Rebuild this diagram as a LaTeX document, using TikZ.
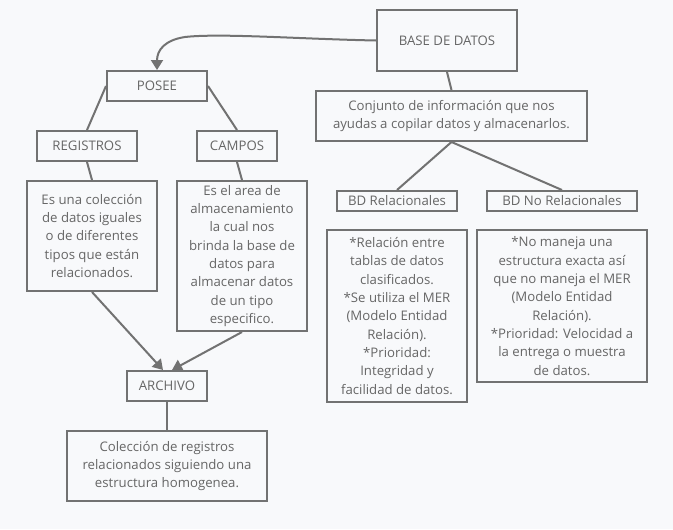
\documentclass[tikz,border=0pt]{standalone}
\usepackage{fontspec}
\setmainfont{Open Sans}
\usetikzlibrary{arrows.meta,calc}
\definecolor{bg}{HTML}{F8F9FB}
\definecolor{ln}{HTML}{727272}
\definecolor{tx}{HTML}{666666}
\begin{document}
\begin{tikzpicture}[x=0.75pt,y=-0.75pt,
  box/.style={draw=ln,line width=1.5pt,inner sep=0pt,align=center,text=tx,
    font=\fontsize{9.9}{13.75}\selectfont},
  conn/.style={draw=ln,line width=1.5pt},
  arr/.style={conn,-{Triangle[length=7.5pt,width=9pt]}}]
\fill[bg] (0,0) rectangle (673,529);
\useasboundingbox (0,0) rectangle (673,529);
% nodes
\node[box,minimum width=105pt,minimum height=45.75pt] (base) at (447,40.5) {BASE DE DATOS};
\node[box,minimum width=203.25pt,minimum height=37.5pt] (conj) at (451.5,116) {Conjunto de información que nos\\ayudas a copilar datos y almacenarlos.};
\node[box,minimum width=90pt,minimum height=15pt] (bdr) at (397,201) {BD Relacionales};
\node[box,minimum width=112.5pt,minimum height=15pt] (bdnr) at (562,201) {BD No Relacionales};
\node[box,minimum width=75pt,minimum height=22.5pt] (posee) at (157,86) {POSEE};
\node[box,minimum width=75pt,minimum height=22.5pt] (reg) at (87,146) {REGISTROS};
\node[box,minimum width=60pt,minimum height=22.5pt] (camp) at (237,146) {CAMPOS};
\node[box,minimum width=97.5pt,minimum height=82.5pt] (regd) at (92,236) {Es una colección\\de datos iguales\\o de diferentes\\tipos que están\\relacionados.};
\node[box,minimum width=97.5pt,minimum height=112.5pt] (campd) at (242,256) {Es el area de\\almacenamiento\\la cual nos\\brinda la base de\\datos para\\almacenar datos\\de un tipo\\especifico.};
\node[box,minimum width=60pt,minimum height=22.5pt] (arch) at (167,386) {ARCHIVO};
\node[box,minimum width=150pt,minimum height=52.5pt] (col) at (167,466) {Colección de registros\\relacionados siguiendo una\\estructura homogenea.};
\node[box,minimum width=105pt,minimum height=129pt] (reld) at (397,316) {*Relación entre\\tablas de datos\\clasificados.\\*Se utiliza el MER\\(Modelo Entidad\\Relación).\\*Prioridad:\\Integridad y\\facilidad de datos.};
\node[box,minimum width=127.5pt,minimum height=114pt] (nreld) at (562,306) {*No maneja una\\estructura exacta así\\que no maneja el MER\\(Modelo Entidad\\Relación).\\*Prioridad: Velocidad a\\la entrega o muestra\\de datos.};
% connectors
\draw[arr] (base.west) .. controls (300,39) and (220,33) .. (185,37) .. controls (165,40) and (157,50) .. (posee.north);
\draw[conn] (base.south) -- (conj.north);
\draw[conn] (conj.south) -- (bdr.north);
\draw[conn] (conj.south) -- (bdnr.north);
\draw[conn] (posee.west) -- (reg.north);
\draw[conn] (posee.east) -- (camp.north);
\draw[conn] (reg.south) -- (regd.north);
\draw[conn] (camp.south) -- (campd.north);
\draw[arr] (regd.south) -- ($(arch.north)+(-4,0)$);
\draw[arr] (campd.south) -- ($(arch.north)+(5,0)$);
\draw[conn] (arch.south) -- (col.north);
\end{tikzpicture}
\end{document}
